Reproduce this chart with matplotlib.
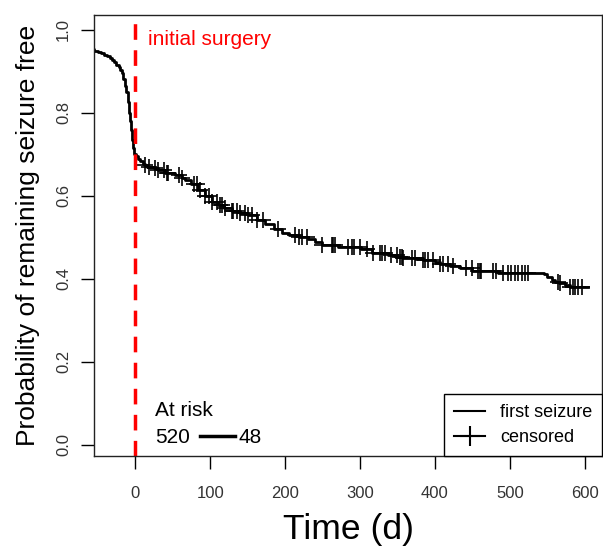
import numpy as np
import matplotlib
matplotlib.use('Agg')
import matplotlib.pyplot as plt
from matplotlib.lines import Line2D

plt.rcParams['font.family'] = ['Liberation Sans', 'DejaVu Sans']

# Kaplan-Meier step curve (time in days relative to initial surgery, survival)
km_times = [-60, -55, -50, -46, -42, -38, -34, -31, -28, -25, -22, -20, -18, -16,
            -14, -12, -10, -8.5, -7, -5.5, -4, -2.5, -1, 1, 4, 7, 10, 13, 16, 25,
            31, 40, 53, 62, 67, 75, 84, 93, 102, 110, 118, 129, 140, 151, 162,
            173, 185, 196, 205, 218, 230, 240, 249, 271, 302, 316, 338, 350, 358,
            384, 400, 407, 420, 433, 450, 464, 484, 545, 550, 556, 560, 566, 573,
            580]
km_surv = [0.953, 0.950, 0.947, 0.944, 0.940, 0.936, 0.932, 0.928, 0.922, 0.916,
           0.910, 0.904, 0.896, 0.882, 0.866, 0.850, 0.826, 0.800, 0.780, 0.758,
           0.735, 0.715, 0.702, 0.696, 0.688, 0.683, 0.678, 0.674, 0.670, 0.666,
           0.662, 0.656, 0.650, 0.643, 0.638, 0.628, 0.614, 0.600, 0.585, 0.577,
           0.570, 0.564, 0.558, 0.553, 0.542, 0.533, 0.520, 0.510, 0.505, 0.500,
           0.495, 0.488, 0.482, 0.477, 0.473, 0.463, 0.457, 0.452, 0.450, 0.446,
           0.440, 0.436, 0.430, 0.426, 0.420, 0.418, 0.415, 0.412, 0.405, 0.398,
           0.393, 0.389, 0.386, 0.381]
end_time = 604

# censoring times
censor_times = [13, 18, 27, 31, 38, 42, 44, 58, 62, 78, 82, 87, 93, 98, 102, 109,
                113, 116, 120, 129, 131, 136, 140, 147, 151, 156, 162, 171, 191,
                213, 218, 222, 229, 249, 262, 264, 267, 284, 289, 292, 300, 309,
                318, 327, 330, 333, 342, 349, 353, 356, 358, 369, 373, 384, 387,
                391, 398, 407, 411, 418, 424, 442, 449, 458, 460, 462, 478, 482,
                491, 498, 502, 507, 511, 516, 520, 524, 564, 567, 580, 584, 587,
                591, 596]

at_risk_start = 520
at_risk_end = 48

fig = plt.figure(figsize=(6.03, 5.47), dpi=100)
ax = fig.add_axes([94/603, 91/547, 508/603, 441/547])

t = np.array(km_times + [end_time])
s = np.array(km_surv + [km_surv[-1]])
ax.step(t, s, where='post', color='black', lw=2)

# censor marks sit on the curve
ct = np.array(censor_times)
idx = np.searchsorted(np.array(km_times), ct, side='right') - 1
ax.plot(ct, np.array(km_surv)[idx], '+', color='black', ms=12, mew=1.2)

ax.axvline(0, color='#ff0000', lw=2.5, dashes=(4.5, 3))
ax.text(17, 0.978, 'initial surgery', color='#ff0000', fontsize=15, va='center')

ax.set_xlim(-55, 623)
ax.set_ylim(-0.027, 1.036)
ax.set_xticks([0, 100, 200, 300, 400, 500, 600])
ax.set_yticks([0.0, 0.2, 0.4, 0.6, 0.8, 1.0])
ax.set_yticklabels(['0.0', '0.2', '0.4', '0.6', '0.8', '1.0'], rotation=90, va='center')
ax.tick_params(direction='out', length=9.4, width=1, labelsize=12, labelcolor='#333333')
ax.tick_params(axis='x', pad=12)
ax.tick_params(axis='y', pad=7)
for sp in ax.spines.values():
    sp.set_linewidth(1)
    sp.set_color('#222222')

ax.set_xlabel('Time (d)', fontsize=25.5, labelpad=9)
ax.set_ylabel('Probability of remaining seizure free', fontsize=19, labelpad=12)

# at-risk annotation
ax.text(0.12, 0.104, 'At risk', transform=ax.transAxes, fontsize=15, va='center')
ax.text(0.12, 0.043, str(at_risk_start), transform=ax.transAxes, fontsize=15, va='center')
ax.add_line(Line2D([0.209, 0.277], [0.045, 0.045], transform=ax.transAxes,
                   color='black', lw=2.5))
ax.text(0.284, 0.043, str(at_risk_end), transform=ax.transAxes, fontsize=15, va='center')

handles = [Line2D([], [], color='black', lw=1.5),
           Line2D([], [], color='black', lw=1.5, marker='+', ms=14, mew=1.5)]
leg = ax.legend(handles, ['first seizure', 'censored'], loc='lower right',
                borderaxespad=0, fontsize=13, fancybox=False, framealpha=1,
                edgecolor='black', handlelength=1.75, labelspacing=0.45,
                borderpad=0.55, handletextpad=0.8)
leg.get_frame().set_linewidth(1)

fig.savefig('out.png', dpi=100)
